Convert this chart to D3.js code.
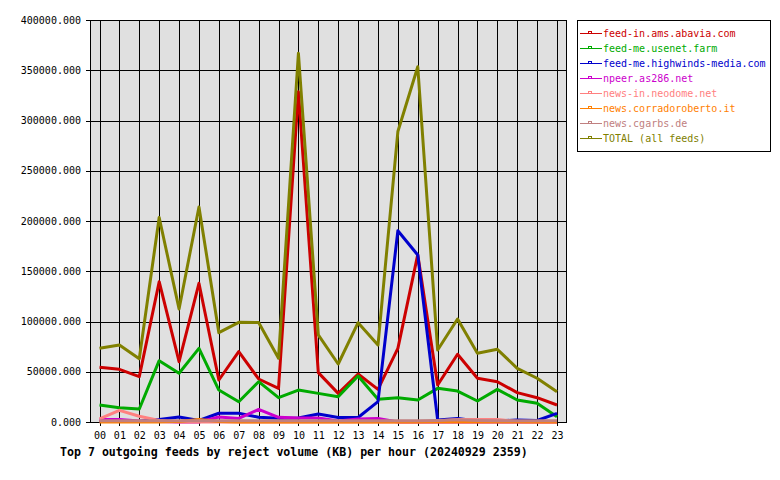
<!DOCTYPE html>
<html>
<head>
<meta charset="utf-8">
<script src="https://cdn.jsdelivr.net/npm/d3@7"></script>
<style>
  body { margin: 0; background: #fff; }
  text { font-family: "DejaVu Sans Mono", monospace; }
</style>
</head>
<body>
<div id="chart"></div>
<script>
"use strict";

var hours = ["00","01","02","03","04","05","06","07","08","09","10","11",
             "12","13","14","15","16","17","18","19","20","21","22","23"];
var yTicks = [0, 50000, 100000, 150000, 200000, 250000, 300000, 350000, 400000];

var feedNames = ["feed-in.ams.abavia.com", "feed-me.usenet.farm", "feed-me.highwinds-media.com",
                 "npeer.as286.net", "news-in.neodome.net", "news.corradoroberto.it",
                 "news.cgarbs.de", "TOTAL (all feeds)"];
var feedColors = ["#cc0000", "#00aa00", "#0000cc", "#cc00cc", "#ff8080", "#ff8000", "#c08080", "#808000"];

var abavia = [54400, 52400, 45100, 139600, 60000, 138000, 41800, 70000, 42800, 33500, 328700, 49100,
              28500, 47800, 32500, 73300, 166500, 36800, 67400, 43500, 40100, 29200, 24200, 16900];
var usenetFarm = [16900, 14200, 12900, 61000, 48500, 73300, 31800, 20200, 40100, 24200, 31800, 28500,
                  25200, 45800, 22600, 24200, 21900, 33500, 30800, 20900, 32500, 21900, 18600, 5300];
var highwinds = [500, 500, 800, 2500, 5000, 1500, 8700, 8700, 4700, 3700, 4000, 8000,
                 4500, 4500, 20200, 190300, 166200, 2000, 3500, 1000, 1000, 2000, 1500, 8600];
var npeer = [2500, 2500, 1000, 500, 0, 0, 5000, 3500, 12500, 4700, 4000, 4000,
             1000, 3000, 3500, 0, 0, 0, 0, 0, 0, 0, 0, 0];
var neodome = [3000, 11600, 5700, 1500, 0, 0, 0, 0, 0, 0, 0, 0,
               0, 0, 0, 0, 0, 1000, 2500, 2500, 2500, 500, 0, 0];
var corradoroberto = [0, 0, 0, 0, 500, 2500, 500, 0, 0, 0, 0, 0,
                      0, 0, 0, 0, 0, 0, 0, 0, 0, 0, 0, 0];
var cgarbs = [1200, 1200, 1200, 1200, 1200, 1200, 1200, 1200, 1200, 1200, 1200, 1200,
              1200, 1200, 1200, 1200, 1200, 1500, 2200, 1500, 1200, 1200, 1200, 1200];
var total = [73300, 76600, 63000, 203500, 112500, 214000, 88900, 99200, 99000, 63400, 366900, 86600,
             57700, 98800, 76600, 289000, 353500, 71600, 102500, 68400, 72300, 53400, 43500, 30200];

var series = [abavia, usenetFarm, highwinds, npeer, neodome, corradoroberto, cgarbs, total];

var svg = d3.select("#chart").append("svg")
    .attr("width", 780)
    .attr("height", 480);

svg.append("rect").attr("width", 780).attr("height", 480).attr("fill", "white");

var x = d3.scalePoint().domain(hours).range([99.5, 557]);
var y = d3.scaleLinear().domain([0, 400000]).range([422, 20]);

// plot background
svg.append("rect")
    .attr("x", 90.5).attr("y", 20.5)
    .attr("width", 476).attr("height", 402)
    .attr("fill", "#e0e0e0");

// grid
svg.append("g").selectAll("line.h").data(yTicks).enter()
    .append("line")
        .attr("x1", 90).attr("x2", 566.5)
        .attr("y1", function(d){return Math.round(y(d)) + 0.5;})
        .attr("y2", function(d){return Math.round(y(d)) + 0.5;})
        .attr("stroke", "black");
svg.append("g").selectAll("line.v").data(hours).enter()
    .append("line")
        .attr("x1", function(d){return Math.round(x(d)) + 0.5;})
        .attr("x2", function(d){return Math.round(x(d)) + 0.5;})
        .attr("y1", 20.5).attr("y2", 426)
        .attr("stroke", "black");

// frame
svg.append("rect")
    .attr("x", 90.5).attr("y", 20.5)
    .attr("width", 476).attr("height", 402)
    .attr("fill", "none").attr("stroke", "black");

// y axis ticks and labels
var yAxis = svg.append("g");
yAxis.selectAll("line").data(yTicks).enter()
    .append("line")
        .attr("x1", 86).attr("x2", 90.5)
        .attr("y1", function(d){return Math.round(y(d)) + 0.5;})
        .attr("y2", function(d){return Math.round(y(d)) + 0.5;})
        .attr("stroke", "black");
yAxis.selectAll("text").data(yTicks).enter()
    .append("text")
        .attr("x", 81)
        .attr("y", function(d){return y(d);})
        .attr("dy", "0.35em")
        .attr("text-anchor", "end")
        .attr("font-size", 10)
        .attr("fill", "black")
        .text(function(d){return d3.format(".3f")(d);});

// x labels
svg.append("g").selectAll("text").data(hours).enter()
    .append("text")
        .attr("x", function(d){return x(d) + 0.5;})
        .attr("y", 435)
        .attr("dy", "0.35em")
        .attr("text-anchor", "middle")
        .attr("font-size", 10)
        .attr("fill", "black")
        .text(function(d){return d;});

// lines
var line = d3.line()
    .x(function(d, i){return x(hours[i]);})
    .y(function(d){return y(d);});

svg.append("g").selectAll("path").data(series).enter()
    .append("path")
        .attr("d", line)
        .attr("fill", "none")
        .attr("stroke", function(d, i){return feedColors[i];})
        .attr("stroke-width", 3)
        .attr("stroke-linejoin", "round");

// legend
svg.append("rect")
    .attr("x", 577.5).attr("y", 20.5)
    .attr("width", 193).attr("height", 131)
    .attr("fill", "white").attr("stroke", "black");

var legend = svg.append("g").selectAll("g").data(feedNames).enter()
    .append("g")
        .attr("transform", function(d, i){return "translate(0," + (33.5 + i * 15) + ")";});
legend.append("line")
    .attr("x1", 580).attr("x2", 602)
    .attr("y1", 0).attr("y2", 0)
    .attr("stroke", function(d, i){return feedColors[i];});
legend.append("rect")
    .attr("x", 588.5).attr("y", -2)
    .attr("width", 3).attr("height", 2)
    .attr("fill", "none")
    .attr("stroke", function(d, i){return feedColors[i];});
legend.append("text")
    .attr("x", 603)
    .attr("y", 0)
    .attr("dy", "0.32em")
    .attr("font-size", 10)
    .attr("fill", function(d, i){return feedColors[i];})
    .text(function(d){return d;});

// title
svg.append("text")
    .attr("x", 60)
    .attr("y", 452)
    .attr("dy", "0.35em")
    .attr("font-size", 11.6)
    .attr("font-weight", "bold")
    .attr("fill", "black")
    .text("Top 7 outgoing feeds by reject volume (KB) per hour (20240929 2359)");
</script>
</body>
</html>
